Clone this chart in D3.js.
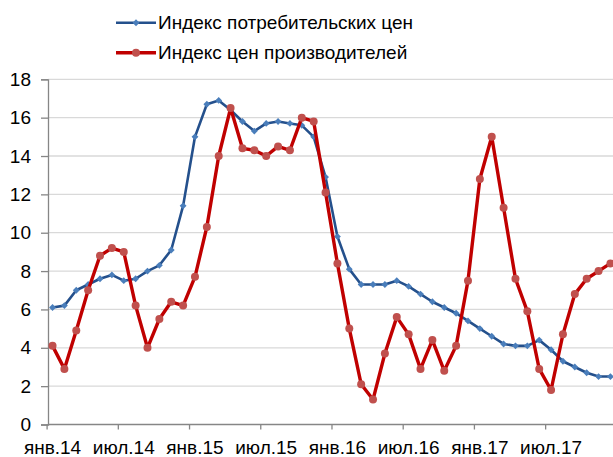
<!DOCTYPE html>
<html>
<head>
	<meta charset="utf-8">
	<title>Индексы цен</title>
	<script src="https://cdn.jsdelivr.net/npm/d3@7/dist/d3.min.js"></script>
	<style>
		body { margin: 0; background: #fff; }
		svg text { font-family: "Liberation Sans", Arial, sans-serif; fill: #000; }
	</style>
</head>
<body>
	<div id="chart"></div>
	<script>
		// monthly values, янв.2014 - дек.2017
		var cpi = [6.1, 6.2, 7.0, 7.3, 7.6, 7.8, 7.5, 7.6, 8.0, 8.3, 9.1, 11.4,
			15.0, 16.7, 16.9, 16.4, 15.8, 15.3, 15.7, 15.8, 15.7, 15.6, 15.0, 12.9,
			9.8, 8.1, 7.3, 7.3, 7.3, 7.5, 7.2, 6.8, 6.4, 6.1, 5.8, 5.4,
			5.0, 4.6, 4.2, 4.1, 4.1, 4.4, 3.9, 3.3, 3.0, 2.7, 2.5, 2.5];
		var ppi = [4.1, 2.9, 4.9, 7.0, 8.8, 9.2, 9.0, 6.2, 4.0, 5.5, 6.4, 6.2,
			7.7, 10.3, 14.0, 16.5, 14.4, 14.3, 14.0, 14.5, 14.3, 16.0, 15.8, 12.1,
			8.4, 5.0, 2.1, 1.3, 3.7, 5.6, 4.7, 2.9, 4.4, 2.8, 4.1, 7.5,
			12.8, 15.0, 11.3, 7.6, 5.9, 2.9, 1.8, 4.7, 6.8, 7.6, 8.0, 8.4];
		var tickLabels = ["янв.14", "июл.14", "янв.15", "июл.15", "янв.16", "июл.16", "янв.17", "июл.17"];
		var yTicks = [0, 2, 4, 6, 8, 10, 12, 14, 16, 18];
		var seriesNames = ["Индекс потребительских цен", "Индекс цен производителей"];

		var W = 613, H = 457;
		var plotLeft = 48, plotTop = 79.3, plotBottom = 424.5;
		var step = 11.87, x0 = 46.6;

		var svg = d3.select("#chart").append("svg")
			.attr("width", W)
			.attr("height", H);

		var x = d3.scaleLinear().domain([0, cpi.length]).range([x0, x0 + cpi.length * step]);
		var y = d3.scaleLinear().domain([0, 18]).range([plotBottom, plotTop]);

		// grid
		svg.append("g").selectAll("line")
			.data(yTicks.slice(1))
			.enter().append("line")
			.attr("x1", plotLeft).attr("x2", W)
			.attr("y1", function(d) { return y(d); })
			.attr("y2", function(d) { return y(d); })
			.attr("stroke", "#d9d9d9")
			.attr("stroke-width", 1.3);

		// y axis
		var gy = svg.append("g")
			.attr("transform", "translate(" + plotLeft + ",0)")
			.call(d3.axisLeft(y).tickValues(yTicks).tickSize(7).tickPadding(10));
		gy.selectAll("path, line").attr("stroke", "#868686").attr("stroke-width", 1.3);
		gy.selectAll("text").style("font-size", "19px").attr("fill", "#000");

		// x axis
		var gx = svg.append("g")
			.attr("transform", "translate(0," + plotBottom + ")")
			.call(d3.axisBottom(x).tickValues(d3.range(0, 49, 6)).tickSize(5).tickFormat(""));
		gx.select("path").attr("d", "M" + plotLeft + ",0H" + W);
		gx.selectAll("path, line").attr("stroke", "#868686").attr("stroke-width", 1.3);

		svg.append("g").selectAll("text")
			.data(tickLabels)
			.enter().append("text")
			.attr("x", function(d, i) { return x(i * 6 + 0.5); })
			.attr("y", 454)
			.attr("text-anchor", "middle")
			.style("font-size", "19px")
			.text(function(d) { return d; });

		var line = d3.line()
			.x(function(d, i) { return x(i + 0.5); })
			.y(function(d) { return y(d); });

		var diamond = d3.symbol().type(d3.symbolDiamond2).size(30);

		// CPI
		svg.append("path")
			.datum(cpi)
			.attr("d", line)
			.attr("fill", "none")
			.attr("stroke", "#24508c")
			.attr("stroke-width", 2.6)
			.attr("stroke-linejoin", "round");
		svg.append("g").selectAll("path")
			.data(cpi)
			.enter().append("path")
			.attr("d", diamond)
			.attr("transform", function(d, i) { return "translate(" + x(i + 0.5) + "," + y(d) + ")"; })
			.attr("fill", "#4a7ebb");

		// PPI
		svg.append("path")
			.datum(ppi)
			.attr("d", line)
			.attr("fill", "none")
			.attr("stroke", "#c00000")
			.attr("stroke-width", 3.4)
			.attr("stroke-linejoin", "round");
		svg.append("g").selectAll("circle")
			.data(ppi)
			.enter().append("circle")
			.attr("cx", function(d, i) { return x(i + 0.5); })
			.attr("cy", function(d) { return y(d); })
			.attr("r", 4)
			.attr("fill", "#c0504d");

		// legend
		var legend = svg.append("g");
		var ly = [22.7, 52.7];
		var lcol = ["#24508c", "#c00000"], mcol = ["#4a7ebb", "#c0504d"], lw = [2.6, 3.4];
		seriesNames.forEach(function(name, i) {
			legend.append("line")
				.attr("x1", 116).attr("x2", 156)
				.attr("y1", ly[i]).attr("y2", ly[i])
				.attr("stroke", lcol[i]).attr("stroke-width", lw[i]);
			if (i == 0) {
				legend.append("path").attr("d", diamond)
					.attr("transform", "translate(136," + ly[i] + ")")
					.attr("fill", mcol[i]);
			} else {
				legend.append("circle").attr("cx", 136).attr("cy", ly[i]).attr("r", 4).attr("fill", mcol[i]);
			}
			legend.append("text")
				.attr("x", 158).attr("y", ly[i] + 6.5)
				.style("font-size", "19px")
				.text(name);
		});
	</script>
</body>
</html>
